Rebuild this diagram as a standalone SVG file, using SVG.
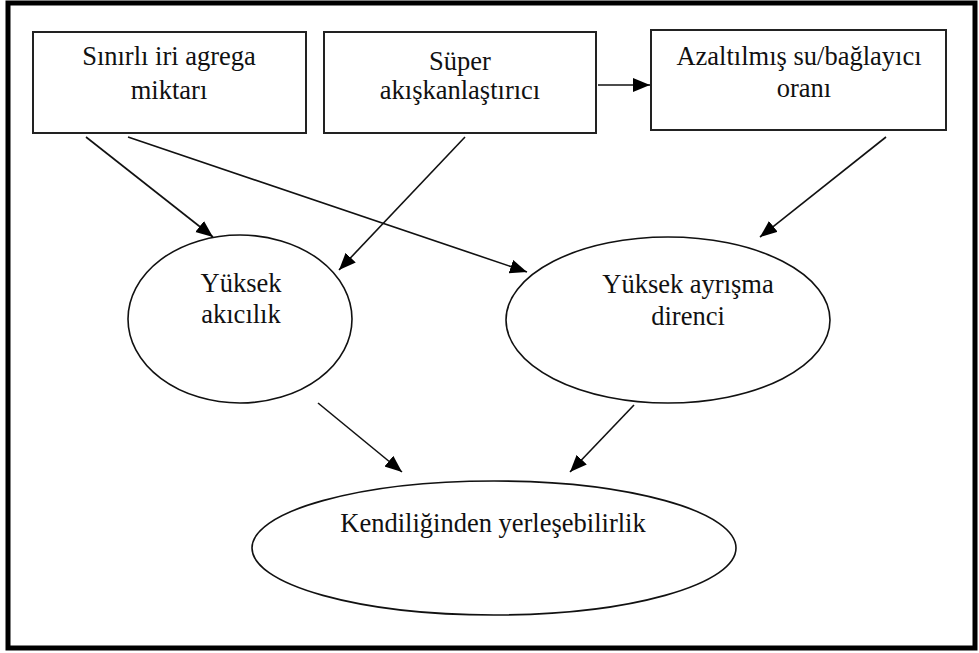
<svg xmlns="http://www.w3.org/2000/svg" width="979" height="653" viewBox="0 0 979 653">
<style>
.box{fill:#fff;stroke:#222;stroke-width:2}
.ell{fill:#fff;stroke:#111;stroke-width:1.6}
.t{font-family:"Liberation Serif","Times New Roman",serif;font-size:26.5px;fill:#111;text-anchor:middle}
.c{stroke:#111;stroke-width:1.6;fill:none;marker-end:url(#ah)}
</style>
<defs>
<marker id="ah" markerUnits="userSpaceOnUse" markerWidth="20" markerHeight="16" refX="17" refY="7" orient="auto">
<path d="M0,0 L17,7 L0,14 Z" fill="#000"/>
</marker>
</defs>
<rect x="8" y="3" width="967" height="645" fill="#fff" stroke="#000" stroke-width="5"/>
<g id="n1">
<rect class="box" x="33" y="32" width="273" height="101"/>
<text class="t" x="169" y="65">Sınırlı iri agrega</text>
<text class="t" x="169" y="99">miktarı</text>
</g>
<g id="n2">
<rect class="box" x="324" y="32" width="272" height="101"/>
<text class="t" x="460" y="70">Süper</text>
<text class="t" x="460" y="99">akışkanlaştırıcı</text>
</g>
<g id="n3">
<rect class="box" x="651" y="30" width="295" height="100"/>
<text class="t" x="799" y="65">Azaltılmış su/bağlayıcı</text>
<text class="t" x="804" y="97">oranı</text>
</g>
<g id="n4">
<ellipse class="ell" cx="240" cy="319" rx="112" ry="84"/>
<text class="t" x="241" y="292">Yüksek</text>
<text class="t" x="241" y="323">akıcılık</text>
</g>
<g id="n5">
<ellipse class="ell" cx="668" cy="320" rx="162" ry="83"/>
<text class="t" x="688" y="293">Yüksek ayrışma</text>
<text class="t" x="688" y="325">direnci</text>
</g>
<g id="n6">
<ellipse class="ell" cx="494" cy="548" rx="242" ry="67"/>
<text class="t" x="493" y="532">Kendiliğinden yerleşebilirlik</text>
</g>
<g id="connectors">
<line class="c" x1="86" y1="137" x2="213" y2="237"/>
<line class="c" x1="128" y1="137" x2="527" y2="272"/>
<line class="c" x1="465" y1="137" x2="339" y2="270"/>
<line class="c" x1="598" y1="85" x2="650" y2="85"/>
<line class="c" x1="886" y1="137" x2="760" y2="237"/>
<line class="c" x1="318" y1="403" x2="402" y2="472"/>
<line class="c" x1="634" y1="405" x2="570" y2="472"/>
</g>
</svg>
